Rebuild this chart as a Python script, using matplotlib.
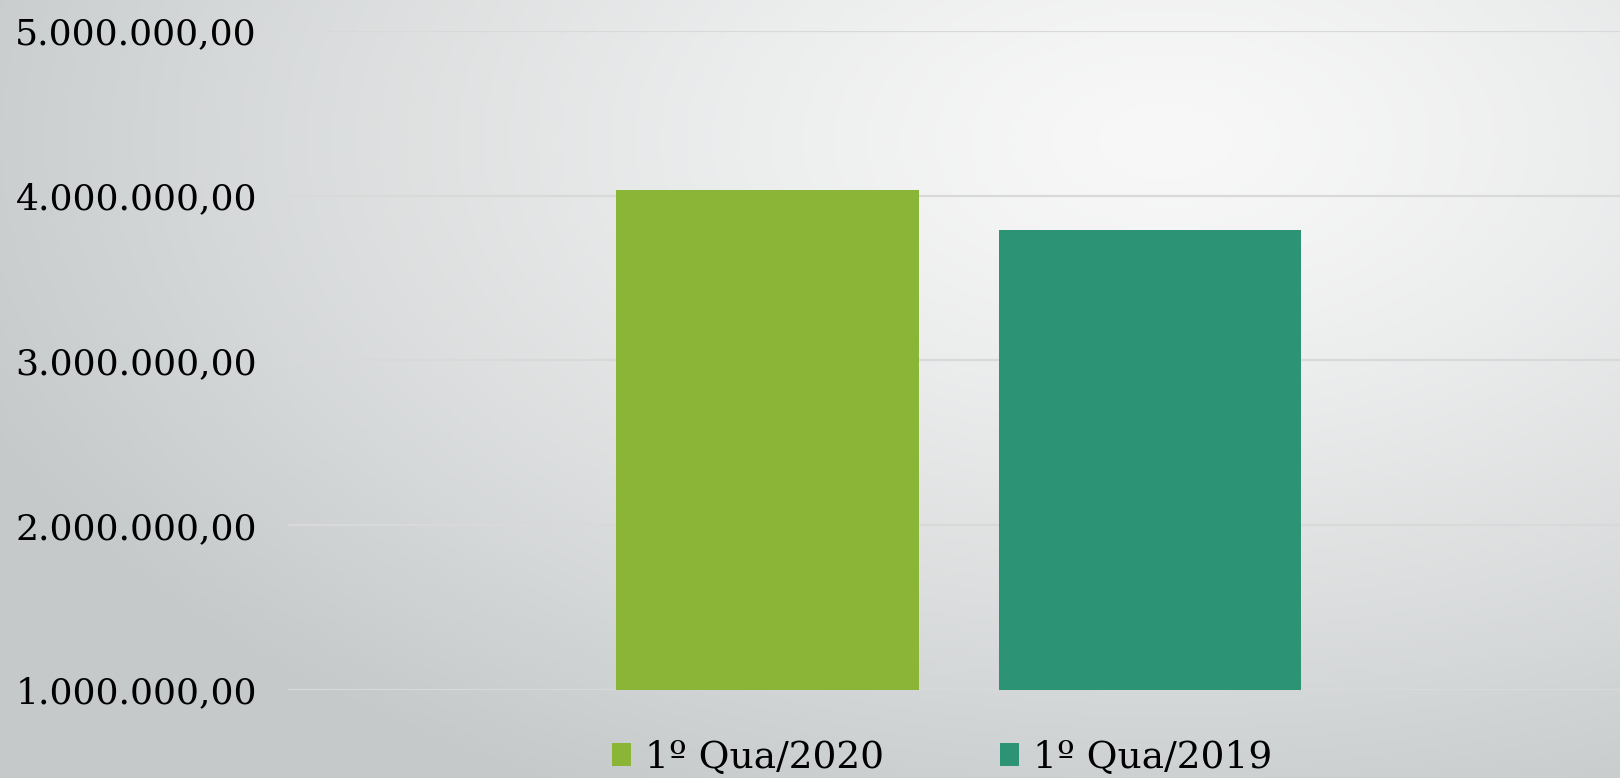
import numpy as np
import matplotlib.pyplot as plt
from matplotlib.patches import Patch
from matplotlib.ticker import FuncFormatter

series = ['1º Qua/2020', '1º Qua/2019']
values = [4035000, 3790000]
colors = ['#8BB536', '#2D9375']
yticks = [1000000, 2000000, 3000000, 4000000, 5000000]

plt.rcParams['font.family'] = ['DejaVu Serif']

fig = plt.figure(figsize=(16.2, 7.78), dpi=100)

# background: soft radial grey gradient, light toward upper right
bg = fig.add_axes([0, 0, 1, 1], zorder=-10)
xx, yy = np.meshgrid(np.linspace(0, 1, 400), np.linspace(0, 1, 200))
r = np.sqrt(((xx - 0.72) / 0.8) ** 2 + ((yy - 0.82) / 0.95) ** 2)
r = np.clip(r, 0, 1)
light = np.array([248, 248, 248]) / 255
dark = np.array([197, 201, 202]) / 255
img = light[None, None, :] + (dark - light)[None, None, :] * (r[..., None] ** 1.3)
bg.imshow(img, origin='lower', extent=[0, 1, 0, 1], aspect='auto')
bg.axis('off')

ax = fig.add_axes([0.1778, 0.1131, 0.8222, 0.8471])
ax.patch.set_alpha(0)
offsets = [-0.14, 0.147]
width = 0.227
for off, v, c in zip(offsets, values, colors):
    ax.bar(off, v - yticks[0], bottom=yticks[0], width=width, color=c, zorder=3)

ax.set_xlim(-0.5, 0.5)
ax.set_ylim(yticks[0], yticks[-1])
ax.set_yticks(yticks)
ax.yaxis.set_major_formatter(FuncFormatter(
    lambda v, p: f'{v:,.2f}'.replace(',', 'X').replace('.', ',').replace('X', '.')))
ax.tick_params(axis='y', length=0, labelsize=26, pad=22.4)
ax.set_xticks([])
ax.grid(axis='y', color='#d9d9d9', linewidth=1.6, zorder=0)
for s in ax.spines.values():
    s.set_visible(False)

handles = [Patch(facecolor=c, label=s) for s, c in zip(series, colors)]
fig.legend(handles=handles, loc='center', bbox_to_anchor=(942 / 1620, 0.026),
           ncol=2, frameon=False, fontsize=27, handlelength=0.5, handleheight=0.6,
           handletextpad=0.37, columnspacing=3.1, borderpad=0)

fig.savefig('out.png', dpi=100)
